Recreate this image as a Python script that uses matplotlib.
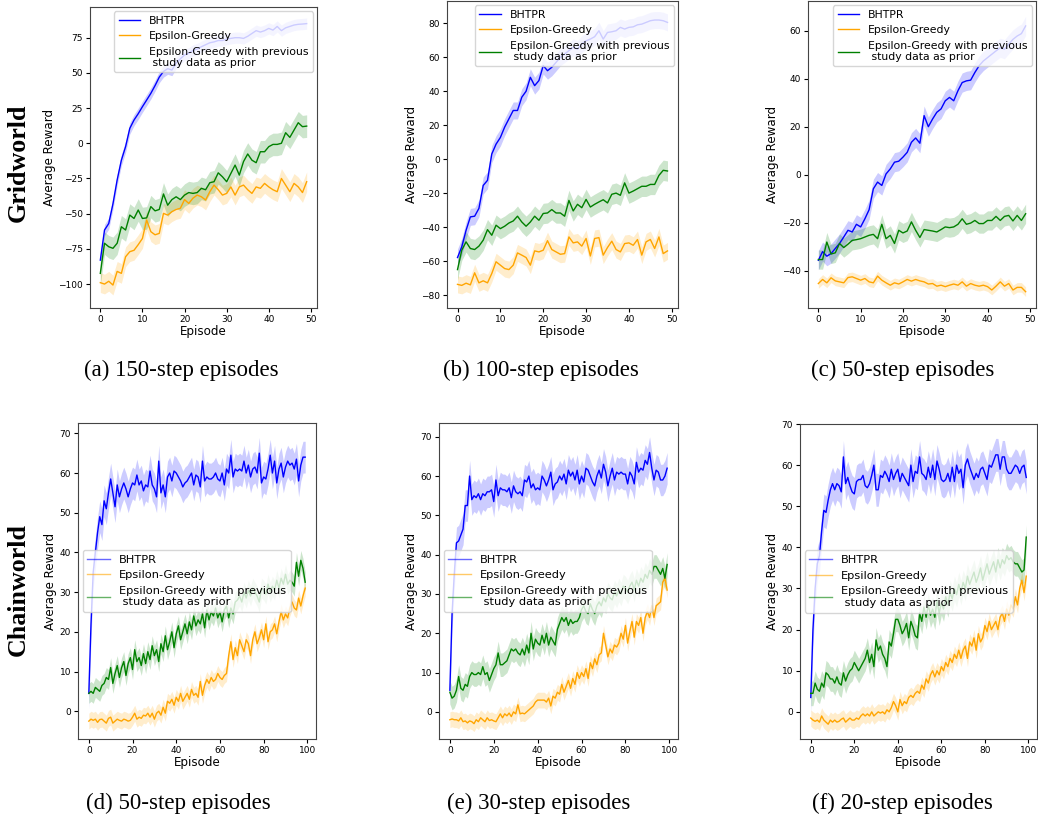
import matplotlib
matplotlib.use('Agg')
import matplotlib.pyplot as plt
import numpy as np

labels = ['BHTPR', 'Epsilon-Greedy', 'Epsilon-Greedy with previous\n study data as prior']
colors = ['blue', 'orange', 'green']

# (a) Gridworld, 150-step episodes
a_bhtpr = [-83, -61.6, -57, -43, -26, -12, -2.4, 10.6, 16.5, 21,
           26, 30.7, 35.5, 41, 47, 51, 53, 52, 57, 60,
           62.7, 64, 66, 67, 68.6, 70, 71.4, 72, 73, 73,
           74, 74.5, 75, 75, 74.5, 76, 78, 80, 79, 80,
           81.6, 80.4, 83, 80, 82, 83, 84, 84.5, 84.7, 85]
a_eps = [-99, -100, -98, -100.7, -91, -92.4, -80.6, -77, -76, -72,
         -67.6, -54.5, -62.8, -65, -64, -49.8, -51, -48.6, -47, -46.2,
         -40, -42.7, -39, -36.8, -38, -40.3, -34.4, -29.7, -33, -36.8,
         -35.6, -31, -36.8, -31, -29.7, -33, -35.6, -31, -32, -28.5,
         -31, -33, -34.4, -25, -29.7, -34.4, -28.5, -31, -35, -27.3]
a_prior = [-92.4, -71, -73.5, -74.6, -71, -59.3, -61.6, -51, -53.4, -47.4,
           -53.4, -53, -45, -48, -47, -36, -44, -40, -38, -40,
           -36.8, -35, -35.6, -35, -32, -33, -28, -27.3, -21, -23.8,
           -27.3, -21.4, -15.5, -22.6, -13, -7.6, -12, -13.8, -6, -6,
           -2.4, -0.8, -0.8, 0, 7.5, 4.2, 9.4, 14.6, 11.8, 12.2]
a_spread = [4, 7, 8]
a_ticks = [-100, -75, -50, -25, 0, 25, 50, 75]

# (b) Gridworld, 100-step episodes
b_bhtpr = [-57.9, -51.6, -41.9, -34, -33.6, -29, -15.5, -12.5, 3, 8.8,
           12.7, 18.8, 23.7, 28.6, 28.6, 36.4, 39.9, 48.1, 43.2, 46.2,
           55, 52, 54, 56.9, 59.9, 61.8, 63.8, 65.7, 64.7, 67.7,
           69.6, 70.6, 72, 75.5, 70.6, 74.5, 74.9, 75.5, 77.5, 76.5,
           77.5, 77.8, 79, 79.4, 80.4, 81.4, 81.8, 81.8, 81.4, 80.4]
b_eps = [-73.7, -74.3, -73, -74, -66.9, -72.8, -71.6, -72.8, -67.3, -60.4,
         -62.4, -64.4, -65, -62.4, -55.2, -56.5, -57.9, -62.4, -54, -54.6,
         -53.6, -48, -53.2, -54.6, -56, -55.6, -45.8, -49.3, -48.7, -51.2,
         -46.7, -57, -46.7, -46.2, -56.5, -52, -48.3, -53.2, -54.6, -49.7,
         -49.3, -50.7, -47.3, -56.5, -48.7, -47.3, -52.6, -45.8, -55.6, -54]
b_prior = [-65, -53.6, -48.7, -52.6, -53.2, -51.2, -47.7, -41.5, -44.8, -38.9,
           -40.9, -39.5, -37.6, -36.4, -33.6, -37, -39.5, -37, -33.6, -36,
           -32, -31.7, -29.7, -31.7, -31.7, -33.6, -24.3, -30.5, -26.6, -28.6,
           -23.7, -28.2, -26.6, -25.2, -23.9, -25.8, -20.7, -20, -21.3, -14,
           -20, -18.8, -17.4, -16, -16, -14.9, -14.9, -9.6, -6.6, -7]
b_spread = [5, 5, 6]
b_ticks = [-80, -60, -40, -20, 0, 20, 40, 60, 80]

# (c) Gridworld, 50-step episodes
c_bhtpr = [-35.6, -32, -33.9, -32.8, -30.7, -28.6, -25.9, -23.1, -23.8, -20.6,
           -21.7, -18.3, -14.5, -5.8, -3, -4.4, 0.4, 2.5, 5.3, 5.7,
           7.4, 9.4, 13.6, 15.4, 13.2, 24.7, 20.1, 23.3, 26.1, 27.5,
           30.9, 32.3, 30.9, 35.1, 38.5, 39.2, 39.5, 42.7, 45.5, 47.5,
           48.9, 50.3, 51.7, 53, 52.4, 54.5, 56.5, 57.9, 58.9, 62.1]
c_eps = [-45.3, -43.6, -45, -42.9, -44.2, -44.6, -45, -42.8, -42.5, -43.2,
         -43.9, -43.2, -44.6, -45, -42.2, -43.9, -45, -46, -45, -45.5,
         -44.6, -43.6, -44.3, -43.6, -44.2, -44.6, -45.5, -45.3, -46.4, -46,
         -46.6, -46, -45.5, -46, -44.6, -46.4, -45.3, -46, -46.4, -46,
         -46.6, -48, -46.4, -44.6, -46.4, -45.3, -48, -46.9, -46.9, -48.7]
c_prior = [-35.3, -35.3, -28, -33, -32.5, -28.6, -30.3, -28.9, -27.3, -27,
           -26.6, -25.9, -25.2, -24.8, -26.6, -20.6, -26.6, -25.2, -28.6, -23.1,
           -24.2, -23.4, -19.6, -23.1, -26.1, -22.8, -23.1, -23.4, -23.8, -22.8,
           -21.7, -22, -21.7, -20.6, -18.3, -20.6, -20.1, -19, -20.3, -20.3,
           -19, -19, -17.3, -19, -17.3, -16.9, -19.2, -16.9, -19, -16.2]
c_spread = [4, 2, 4]
c_ticks = [-40, -20, 0, 20, 40, 60]

# (d) Chainworld, 50-step episodes
d_bhtpr = [4.5, 22, 35, 40, 45, 49, 47, 53, 51, 55,
           58.5, 55, 51.5, 57, 54, 56, 57.5, 56, 54, 56,
           57.5, 57, 59.5, 57, 58, 55.5, 57, 56.5, 60.5, 57,
           56, 54, 63, 55, 57, 54, 59, 60, 58, 60.5,
           60, 59, 58, 56.5, 57.5, 58, 59, 60, 57, 59.5,
           59, 56.5, 63, 58, 59, 58.5, 58.5, 59, 60, 58.5,
           58, 60, 57, 61, 60, 64.5, 59, 61, 60.5, 61,
           60.5, 63, 60, 62, 59, 61, 61.5, 60, 65, 57.5,
           59, 58.5, 61, 64.5, 60, 63, 57.5, 61, 62.5, 59,
           61.5, 63, 62, 62.5, 61, 63.5, 58, 62, 64, 64]
d_eps = [-2.5, -2, -2.3, -2, -2.8, -2.1, -2, -2.5, -3, -1.8,
         -1.5, -3, -2.5, -2, -2.3, -2.5, -2, -2.2, -2.5, -2.3,
         -1.5, -0.5, -2, -1.5, -1.8, -1, -1.2, -0.5, -1.5, -0.5,
         -2, -0.5, 0, -1, 1, -0.5, 2.5, 2, 3, 1.5,
         3.5, 2.5, 4.5, 2.5, 3.5, 4.5, 3, 5.5, 4, 4.5,
         3.5, 7.5, 4, 6.5, 8, 7, 8.5, 7.5, 8, 9.5,
         8.5, 8, 9, 9.5, 14, 17.5, 13, 16, 14, 18,
         16.5, 15, 18, 17, 14, 18, 20, 17, 18.5, 20.5,
         18, 22, 17.5, 20, 20.5, 22, 19.5, 22.5, 25, 23,
         24.5, 23.5, 26, 27.5, 26, 25.5, 28.5, 26.5, 29, 31]
d_prior = [4.5, 5, 4.5, 6, 5.5, 5, 6.5, 7, 8.5, 8,
           11, 7, 9.5, 11.5, 8.5, 11, 12.5, 9, 12, 13.5,
           10.5, 15.5, 12.5, 13.5, 11.5, 14.5, 12, 15, 13, 16.5,
           14, 15.5, 12.5, 17, 15, 19, 15.5, 17.5, 20, 16,
           19.5, 21.5, 18, 20, 22, 19.5, 22.5, 20.5, 24, 21.5,
           23, 22, 24.5, 21, 25.5, 23, 25, 24, 26, 23.5,
           25, 22.5, 25.5, 26.5, 23.5, 26, 24.5, 27.5, 28, 29,
           27.5, 30, 28.5, 30.5, 29, 31, 30, 29, 27.5, 31,
           30.5, 29.5, 32, 30, 31.5, 30.5, 33, 31, 33.5, 32,
           34.5, 32, 33, 32.5, 31.5, 37.5, 34, 38, 36, 32.5]
d_spread = [4, 2, 2.5]

# (e) Chainworld, 30-step episodes
e_bhtpr = [5.5, 25, 35, 43, 43.5, 45, 46.5, 52.5, 52.5, 60,
           54, 55, 54.5, 55.5, 54, 55.5, 55, 56, 56, 56.5,
           53.5, 59, 55, 57, 56.5, 56.5, 56, 57, 54.5, 57.5,
           56, 55.5, 56, 55, 59, 58.5, 60, 57, 58, 56.5,
           57, 56.5, 60, 59, 57.5, 59, 61, 56.5, 58, 58.5,
           60, 59, 60.5, 58, 61.5, 60, 61, 59, 61.5, 58,
           60, 58.5, 62, 61.5, 60, 58.5, 57.5, 60, 61.5, 59.5,
           63, 61, 57.5, 60, 62, 59, 61, 60.5, 61, 60.5,
           60.5, 58, 61, 60, 58, 63.5, 61, 62, 61.5, 64,
           63, 66, 62, 59, 61.5, 61, 59, 59, 60, 62]
e_eps = [-2, -1.8, -2, -2, -2.3, -1.5, -2.5, -2.3, -2.8, -2.3,
         -2.5, -3, -2, -2.5, -1.5, -2, -2.5, -1.5, -2.2, -2,
         -2.3, -2.5, -1.5, -0.5, -1.5, -0.5, -1, -0.3, -1.2, 0,
         -0.5, 1.8, -0.5, -0.3, -0.5, 0, 0.5, 1, 1.5, 2.5,
         3, 3, 3, 3, 2.5, 3.5, 1.5, 4, 3.5, 5,
         4.5, 7, 5, 6.5, 8, 6, 8.5, 7, 10, 8.5,
         10, 9, 11, 8.5, 12.5, 11, 13.5, 12, 14.5, 15,
         20, 17, 14, 16, 15, 17, 16.5, 17.5, 20, 18.5,
         22, 17.5, 20.5, 23, 19, 23, 22, 24, 20, 24,
         25.5, 24, 27, 24, 27, 27.5, 28, 33, 34, 31]
e_prior = [5, 3.5, 4, 5.5, 9, 6, 5.5, 7, 6.5, 9,
           10, 9.5, 9.5, 10, 9.5, 11.5, 9.5, 10, 8, 9.5,
           11, 12, 15, 12, 12, 12.5, 13, 14.5, 16, 15.5,
           16, 15, 14.5, 16, 14.5, 17, 15, 20, 16, 18.5,
           17.5, 17, 19.5, 17.5, 20, 17, 19, 18, 17, 21,
           22.5, 24, 23, 24, 22, 23.5, 22.5, 23, 23, 24,
           26, 27, 25.5, 25, 27.5, 26, 25, 27, 28, 27,
           29, 28, 30, 29, 28.5, 30.5, 29.5, 31, 30, 32,
           31.5, 30.5, 32, 33, 31, 33.5, 32, 34, 33, 35,
           34, 36, 35, 37, 37, 36, 35, 36.5, 34, 37.5]
e_spread = [4, 2, 3]

# (f) Chainworld, 20-step episodes
f_bhtpr = [3.5, 20, 30, 36, 38, 44, 49, 48.5, 51.5, 54,
           55.5, 54, 55.5, 55, 53.5, 62, 55.5, 57, 55, 53.5,
           53, 56, 56.5, 56.5, 57.5, 55, 54.5, 55.5, 57.5, 60,
           54, 54, 57.5, 57, 58.5, 57.5, 56, 59, 56.5, 58,
           59, 56, 58, 57, 56, 55, 60, 56, 58.5, 58,
           62, 58, 57.5, 56.5, 59.5, 57, 60, 56.5, 61, 59,
           56.5, 56, 56.5, 58, 56, 59.5, 56, 60, 58, 59,
           54.5, 60, 61.5, 59.5, 58, 56.5, 58, 57, 59, 59.5,
           58, 56.5, 60, 59.5, 61, 62.5, 62.5, 59, 62, 62,
           59, 58, 58, 59, 60, 59.5, 58, 59.5, 60, 57]
f_eps = [-1.5, -2, -2.3, -2, -2.5, -1, -2, -2.5, -3, -2,
         -2.5, -2, -2.5, -2.3, -1.8, -1.5, -2.5, -2, -1.5, -2,
         -2, -1.5, -1.8, -1, -0.5, -1, -0.5, -1, 0, -1,
         -0.5, 0, -0.3, 0, -0.5, 0.5, 0, 1, 2.5, 1.5,
         0, 3, 1.5, 2.5, 2, 3.5, 4, 3.5, 4.5, 5,
         4.5, 6.5, 5.5, 8, 7, 9, 10, 8.5, 10, 9,
         11, 10, 12, 11, 13, 12, 14, 13, 15, 13,
         15, 16, 13, 17, 16, 18, 15, 19, 17, 18,
         21, 19.5, 22, 20, 21, 22, 20, 23, 24, 22,
         25, 23.5, 26, 25, 28, 26, 30, 32, 29, 33]
f_prior = [4.5, 4.5, 7, 5.5, 5, 7, 6, 9.5, 9, 8,
           8, 7, 8.5, 7, 6.5, 9.5, 7.5, 9, 10, 10.5,
           12, 11, 10, 11, 12, 13, 15, 12, 14, 11,
           17.5, 15, 16, 14, 13, 11, 17, 16, 19, 22.5,
           22.5, 21, 19, 20, 21.5, 18, 22, 20.5, 18.5, 18,
           24, 22, 25.5, 23, 26, 23.5, 25, 23, 27, 24,
           26.5, 25, 28, 26, 29, 27.5, 30, 28.5, 31, 29,
           31.5, 30, 33, 31, 32.5, 34, 31.5, 33, 35, 32,
           34, 36, 33.5, 35, 36.5, 34, 37, 35, 37, 36,
           38, 37, 37.5, 36.5, 36, 36, 35, 34, 34.5, 42.5]
f_spread = [4, 2, 3]
chain_ticks = [0, 10, 20, 30, 40, 50, 60, 70]

captions = ['(a) 150-step episodes', '(b) 100-step episodes', '(c) 50-step episodes',
            '(d) 50-step episodes', '(e) 30-step episodes', '(f) 20-step episodes']
row_names = ['Gridworld', 'Chainworld']

W, H = 1038, 818
fig = plt.figure(figsize=(W / 100, H / 100), dpi=100)


def px_axes(left, right, top, bottom):
    return fig.add_axes([left / W, 1 - bottom / H, (right - left) / W, (bottom - top) / H])


def draw(ax, series, spread, ylim, yticks, loc, legend_size, handle_alpha):
    for ys, sd, c, lab in zip(series, spread, colors, labels):
        ys = np.array(ys)
        x = np.arange(len(ys))
        ax.fill_between(x, ys - sd, ys + sd, color=c, alpha=0.2, linewidth=0)
        ax.plot(x, ys, color=c, lw=1.0, label=lab)
    ax.set_ylim(*ylim)
    ax.set_yticks(yticks)
    ax.set_xlabel('Episode', fontsize=8.6, labelpad=1)
    ax.set_ylabel('Average Reward', fontsize=8.6, labelpad=2)
    ax.tick_params(labelsize=6.5, length=3, pad=2)
    for s in ax.spines.values():
        s.set_color('#444444')
    leg = ax.legend(loc=loc, fontsize=legend_size, borderaxespad=0.4)
    for h in leg.legend_handles:
        h.set_alpha(handle_alpha)


top_panels = [
    ((90, 317, 7, 308), [a_bhtpr, a_eps, a_prior], a_spread, (-117, 96.8), a_ticks),
    ((447, 678, 1, 308), [b_bhtpr, b_eps, b_prior], b_spread, (-87.6, 93), b_ticks),
    ((808, 1036, 1, 308), [c_bhtpr, c_eps, c_prior], c_spread, (-55.5, 72.5), c_ticks),
]
bottom_panels = [
    ((78, 316, 423, 739), [d_bhtpr, d_eps, d_prior], d_spread, (-7, 72.6)),
    ((439, 678, 423, 739), [e_bhtpr, e_eps, e_prior], e_spread, (-6.9, 73.5)),
    ((800, 1037, 424, 739), [f_bhtpr, f_eps, f_prior], f_spread, (-6.6, 70)),
]

for box, series, spread, ylim, ticks in top_panels:
    ax = px_axes(*box)
    draw(ax, series, spread, ylim, ticks, 'upper right', 7.8, 1.0)

for box, series, spread, ylim in bottom_panels:
    ax = px_axes(*box)
    draw(ax, series, spread, ylim, chain_ticks, 'center left', 8.2, 0.6)

# sub-figure captions
cap_x = [181, 541, 903, 178, 539, 902]
cap_y = [370, 370, 370, 803, 803, 803]
for txt, cx, cy in zip(captions, cap_x, cap_y):
    fig.text(cx / W, 1 - cy / H, txt, ha='center', va='center',
             family='Liberation Serif', fontsize=16.5)

# row titles
for name, cy in zip(row_names, [163, 589]):
    fig.text(18 / W, 1 - cy / H, name, ha='center', va='center', rotation=90,
             family='Liberation Serif', fontweight='bold', fontsize=18.7)

fig.savefig('out.png', dpi=100)
plt.close(fig)
